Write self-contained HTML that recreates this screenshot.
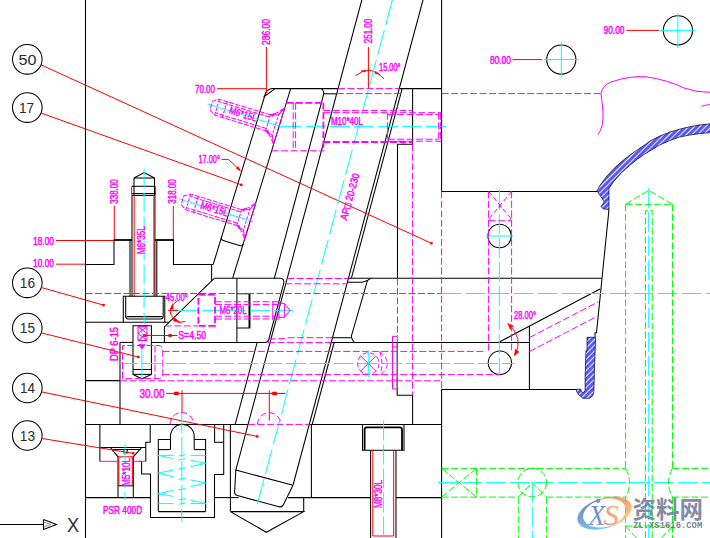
<!DOCTYPE html>
<html lang="zh">
<head>
<meta charset="utf-8">
<title>CAD</title>
<style>
html,body{margin:0;padding:0;background:#fff;}
body{width:710px;height:538px;overflow:hidden;position:relative;font-family:"Liberation Sans","Noto Sans CJK SC",sans-serif;}
svg{position:absolute;left:0;top:0;display:block;}
.k{stroke:#000;stroke-width:1.05;fill:none;}
.k2{stroke:#000;stroke-width:1.8;fill:none;}
.r{stroke:#f00;stroke-width:1;fill:none;}
.rf{stroke:#f00;stroke-width:.6;fill:#f00;}
.c{stroke:#0ff;stroke-width:1;fill:none;stroke-dasharray:20 4;}
.cs{stroke:#0ff;stroke-width:1;fill:none;}
.m{stroke:#f0f;stroke-width:1;fill:none;stroke-dasharray:7 2.5;}
.m2{stroke:#f0f;stroke-width:1.8;fill:none;stroke-dasharray:7 2.5;}
.ms{stroke:#f0f;stroke-width:1;fill:none;}
.mf{stroke:#f0f;stroke-width:.6;fill:#f0f;}
.g{stroke:#0f0;stroke-width:1;fill:none;stroke-dasharray:7 2.5;}
.hb{stroke:#000;stroke-width:.7;fill:url(#hb);}
.mt{fill:#f0f;stroke:#f0f;stroke-width:.45;font-family:"Liberation Sans",sans-serif;font-size:10.2px;}
.bt{fill:#2a2a2a;font-family:"Liberation Sans",sans-serif;font-size:15px;}
.bx{fill:#333;font-family:"Liberation Sans",sans-serif;font-size:19.6px;}
#wm{position:absolute;left:575px;top:492px;width:135px;height:46px;opacity:.85;}
#wm .cn{position:absolute;left:57.5px;top:3.5px;font-size:23.5px;line-height:28px;font-weight:bold;color:#6f7896;letter-spacing:0;white-space:nowrap;font-family:"Liberation Sans","Noto Sans CJK SC",sans-serif;}
#wm .url{position:absolute;left:58px;top:29px;font-size:8.8px;line-height:10px;font-weight:bold;color:#6c6c78;white-space:nowrap;font-family:"Liberation Mono",monospace;letter-spacing:0.05px;}
</style>
</head>
<body>
<svg width="710" height="538" viewBox="0 0 710 538">
<line x1="85.5" y1="0" x2="85.5" y2="538" class="k"/>
<path d="M85.5 264.5 L114 264.5 L114 240" class="k"/>
<line x1="113.5" y1="240" x2="132" y2="240" class="k2"/>
<line x1="155" y1="240" x2="174" y2="240" class="k2"/>
<path d="M173.5 240 L173.5 264.5 L213.18 264.5" class="k"/>
<line x1="211.6" y1="264.5" x2="211.6" y2="280.8" class="k"/>
<path d="M213.18 264.5 L265.31 94 Q266.68 89.5 271.8 88.6" class="k"/>
<line x1="274.8" y1="88.8" x2="263.6" y2="97" class="k"/>
<line x1="271.5" y1="88.6" x2="338.06" y2="88.6" class="k"/>
<line x1="290.66" y1="88.6" x2="232.69" y2="278.2" class="k"/>
<path d="M221.53 237.2 Q220.76 239.7 223.16 240.45 L240.26 245.65 Q242.66 246.4 243.18 243.9" class="k"/>
<path d="M214.2 278.3 L164.4 326.9 L164.4 342.4" class="k"/>
<path d="M214.2 278.3 L280.3 278.3 Q284.6 278.3 283.74 283.5 L268.6 340 Q267.95 342.4 265.35 342.4" class="k"/>
<line x1="120" y1="342.4" x2="133" y2="342.4" class="k"/>
<line x1="151.4" y1="342.4" x2="265.55" y2="342.4" class="k"/>
<line x1="236.9" y1="278.3" x2="236.9" y2="342.4" class="k"/>
<path d="M236.9 293.7 L249.7 293.7 L249.7 327.9 L236.9 327.9" class="k"/>
<line x1="249.4" y1="293.7" x2="249.4" y2="327.9" class="k2"/>
<line x1="85.5" y1="322.3" x2="169" y2="322.3" class="k"/>
<path d="M320.3 88.6 Q323.3 88.8 323.82 93.6 L274.33 278.3" class="k"/>
<line x1="323.77" y1="93.8" x2="336.47" y2="93.8" class="k"/>
<line x1="257.15" y1="342.4" x2="235.18" y2="424.4" class="k"/>
<line x1="361.8" y1="0" x2="235.7" y2="470.6" class="k"/>
<line x1="423" y1="0" x2="293.04" y2="485" class="k"/>
<line x1="402.16" y1="88.6" x2="351.33" y2="278.3" class="k"/>
<line x1="334.13" y1="342.5" x2="312.18" y2="424.4" class="k"/>
<line x1="399.26" y1="88.6" x2="441.6" y2="88.6" class="k"/>
<path d="M441.6 0 L441.6 191.4 L597.4 191.4" class="k"/>
<path d="M412.6 88.6 L412.6 144.2 L397.5 144.2 L397.5 278.3" class="k"/>
<line x1="348.43" y1="278.3" x2="601.6" y2="278.3" class="k"/>
<path d="M347.38 282.2 L362 282.2 L367.4 280.6 L370.6 278.3" class="k"/>
<path d="M367.4 280.6 L351.5 335.6 Q350.9 337.8 354.2 342.5" class="k"/>
<line x1="332.51" y1="337.7" x2="350.9" y2="337.7" class="k"/>
<path d="M330.63 342.5 L529.4 342.5" class="k"/>
<line x1="529.4" y1="326.2" x2="529.4" y2="389.4" class="k"/>
<line x1="498.2" y1="342.5" x2="600" y2="289" class="k"/>
<path d="M609 209.4 L596.5 332.7 L595 332.7 L595 337.3" class="k"/>
<path d="M576.7 389.4 L441.6 389.4 L441.6 538" class="k"/>
<path d="M397.2 342.5 L397.2 395.2 L412.6 395.2 L412.6 424.4" class="k"/>
<line x1="85.5" y1="424.4" x2="248.08" y2="424.4" class="k"/>
<line x1="309.28" y1="424.4" x2="441.6" y2="424.4" class="k"/>
<line x1="120" y1="342.4" x2="120" y2="424.4" class="k"/>
<line x1="85.5" y1="380.6" x2="120" y2="380.6" class="k"/>
<path d="M134 178 L144.1 172.6 L154.5 178" class="k"/>
<line x1="134" y1="178" x2="154.5" y2="178" class="k"/>
<line x1="134" y1="178" x2="134" y2="195.4" class="k"/>
<line x1="154.5" y1="178" x2="154.5" y2="195.4" class="k"/>
<line x1="131.7" y1="186.3" x2="131.7" y2="195.4" class="r"/>
<line x1="155.6" y1="186.3" x2="155.6" y2="195.4" class="r"/>
<line x1="132" y1="186.3" x2="155.2" y2="186.3" class="k"/>
<line x1="132" y1="193.6" x2="155.2" y2="193.6" class="k"/>
<line x1="132" y1="195.4" x2="155.2" y2="195.4" class="k"/>
<line x1="132" y1="195.4" x2="132" y2="296.2" class="k"/>
<line x1="154.9" y1="195.4" x2="154.9" y2="296.2" class="k"/>
<line x1="130" y1="240" x2="130" y2="296.2" class="k"/>
<line x1="156.8" y1="240" x2="156.8" y2="296.2" class="k"/>
<line x1="134.2" y1="195.4" x2="134.2" y2="296.2" class="r"/>
<line x1="153.9" y1="195.4" x2="153.9" y2="296.2" class="r"/>
<path d="M123.3 322.3 L123.3 296.2 L164.8 296.2 L164.8 322.3" class="k"/>
<path d="M125.7 296.2 L125.7 316.6 Q125.7 318.9 128 318.9 L160.9 318.9 Q163.2 318.9 163.2 316.6 L163.2 296.2" class="k"/>
<line x1="126.5" y1="316.6" x2="162.4" y2="316.6" class="k"/>
<path d="M133 342.4 L133 325.7 L151.4 325.7 L151.4 342.4" class="k"/>
<path d="M133 342.4 L133 374.4 L141.9 378.8 L151.4 374.4 L151.4 342.4" class="k"/>
<line x1="133" y1="369.5" x2="151.4" y2="369.5" class="k"/>
<line x1="133" y1="374.4" x2="151.4" y2="374.4" class="k"/>
<path d="M99.9 424.4 L99.9 461.2" class="k"/>
<path d="M150.2 424.4 L150.2 442.2 L145.8 442.2 L145.8 461.2" class="k"/>
<path d="M141.6 461.2 L141.6 474 L150.5 474 L150.5 517.5 L214.5 517.5 L214.5 474.4 L223.7 474.4 L223.7 424.4" class="k"/>
<line x1="99.9" y1="447.5" x2="145.8" y2="447.5" class="k"/>
<path d="M110.4 447.5 L118 456.8 L118 497.6" class="k"/>
<path d="M141.7 447.5 L133.3 456.8 L133.3 497.6" class="k"/>
<line x1="111.6" y1="449.5" x2="140.4" y2="449.5" class="k"/>
<path d="M124.1 449.5 L124.1 453 L127.2 453 L127.2 449.5" class="k"/>
<line x1="118" y1="485.8" x2="133.3" y2="485.8" class="k"/>
<line x1="118.9" y1="456.8" x2="118.9" y2="485.8" class="r"/>
<line x1="132.3" y1="456.8" x2="132.3" y2="485.8" class="r"/>
<line x1="118" y1="456.8" x2="133.3" y2="456.8" class="r"/>
<line x1="85.5" y1="497.6" x2="150.5" y2="497.6" class="k"/>
<path d="M214.6 424.4 L214.6 442.2 L223.7 442.2" class="k"/>
<path d="M158.3 511.6 L158.3 439.5 L170.5 439.5" class="k"/>
<path d="M205.6 511.6 L205.6 439.5 L194.2 439.5" class="k"/>
<line x1="158.3" y1="511.6" x2="205.6" y2="511.6" class="k"/>
<line x1="158.3" y1="449.6" x2="170.5" y2="449.6" class="k"/>
<line x1="194.2" y1="449.6" x2="205.6" y2="449.6" class="k"/>
<path d="M170.5 449.6 L170.5 436.2 A11.85 11.85 0 0 1 194.2 436.2 L194.2 449.6" class="k"/>
<line x1="214.5" y1="497.6" x2="238.6" y2="497.6" class="k"/>
<line x1="288" y1="497.6" x2="370.6" y2="497.6" class="k"/>
<line x1="396" y1="497.6" x2="441.6" y2="497.6" class="k"/>
<line x1="311.4" y1="424.4" x2="311.4" y2="497.6" class="k"/>
<line x1="303.7" y1="497.6" x2="303.7" y2="511.6" class="k"/>
<line x1="230.4" y1="424.4" x2="230.4" y2="511.6" class="k"/>
<path d="M230.4 511.6 L303.7 511.6 L266.3 532.3 L230.4 511.6" class="k"/>
<line x1="235.86" y1="470.05" x2="292.94" y2="485.35" class="k"/>
<path d="M235.86 470.05 L234.72 489.94 Q233.77 494.65 237.34 495.61 L278.88 506.74 Q282.45 507.69 284.4 502.73 L292.94 485.35" class="k"/>
<path d="M362.5 424.4 L362.5 450.3 L404 450.3 L404 424.4" class="k"/>
<path d="M364.6 450 L364.6 429.6 Q364.6 427.4 366.8 427.4 L399.8 427.4 Q402 427.4 402 429.6 L402 450" class="k2"/>
<line x1="370.6" y1="450.3" x2="370.6" y2="538" class="k"/>
<line x1="396" y1="450.3" x2="396" y2="538" class="k"/>
<line x1="372.8" y1="450.3" x2="372.8" y2="536" class="r"/>
<line x1="393.7" y1="450.3" x2="393.7" y2="536" class="r"/>
<line x1="372.8" y1="536" x2="393.7" y2="536" class="r"/>
<circle cx="561.3" cy="59.6" r="14.6" class="k"/>
<circle cx="677.9" cy="30.4" r="14.6" class="k"/>
<circle cx="499.6" cy="236" r="11.7" class="k"/>
<circle cx="499.9" cy="362.8" r="11.7" class="k"/>
<circle cx="27.3" cy="59.3" r="14.8" class="k"/>
<text transform="translate(27.4 59.3)" x="0" y="0" class="bt" text-anchor="middle" textLength="18" lengthAdjust="spacingAndGlyphs" dy="0.36em">50</text>
<circle cx="27.3" cy="107.6" r="14.8" class="k"/>
<text transform="translate(26.6 107.6)" x="0" y="0" class="bt" text-anchor="middle" textLength="15.2" lengthAdjust="spacingAndGlyphs" dy="0.36em">17</text>
<circle cx="27.3" cy="282.8" r="14.8" class="k"/>
<text transform="translate(27.4 282.8)" x="0" y="0" class="bt" text-anchor="middle" textLength="15.2" lengthAdjust="spacingAndGlyphs" dy="0.36em">16</text>
<circle cx="27.3" cy="328" r="14.8" class="k"/>
<text transform="translate(27.4 328)" x="0" y="0" class="bt" text-anchor="middle" textLength="15.2" lengthAdjust="spacingAndGlyphs" dy="0.36em">15</text>
<circle cx="27.3" cy="388" r="14.8" class="k"/>
<text transform="translate(27.4 388)" x="0" y="0" class="bt" text-anchor="middle" textLength="15" lengthAdjust="spacingAndGlyphs" dy="0.36em">14</text>
<circle cx="27.3" cy="435.5" r="14.8" class="k"/>
<text transform="translate(27.4 435.5)" x="0" y="0" class="bt" text-anchor="middle" textLength="15.2" lengthAdjust="spacingAndGlyphs" dy="0.36em">13</text>
<line x1="0" y1="524.5" x2="43.5" y2="524.5" class="k"/>
<path d="M43.5 519.6 L56.5 524.5 L43.5 529.6 L43.5 519.6" class="k"/>
<path d="M43.5 522 L51 524.5 L43.5 527" class="k" style="stroke:#777;stroke-width:.8"/>
<text transform="translate(73.2 524.8)" x="0" y="0" class="bx" text-anchor="middle" textLength="12.2" lengthAdjust="spacingAndGlyphs" dy="0.36em">X</text>
<defs><pattern id="hb" width="4" height="4" patternUnits="userSpaceOnUse" patternTransform="rotate(-45)"><rect width="4" height="4" fill="#5858ff"/><rect width="4" height="0.9" fill="#fff"/></pattern></defs>
<path d="M597.1 190.8 L599.5 186.1 L605.8 177.4 L613.7 168.7 L621.6 161.6 L629.5 155.3 L637.4 149.8 L645.3 144.5 L649.9 141.1 L659.7 136.1 L669.6 132.2 L679.4 129.2 L689.3 126.8 L699.2 125 L711 123.7 L711 132.5 L699.2 133.7 L689.3 135.1 L679.4 137.1 L669.6 140.6 L659.7 145 L649.9 150.9 L645.3 153.7 L637.4 159.2 L629.5 165.6 L621.6 172.7 L613.7 181.4 L609 188.5 L609 209.4 L603.4 209 L601.1 206.6 L604.2 201.9 L601.9 198 L599.5 194.8 Z" class="hb"/>
<path d="M587 337.3 L595.6 337.3 L594.6 366 L593.8 392.5 L592.5 396 L589.5 398.3 L583 398.3 L579 395 L576.5 391.5 L576.7 389.2 L581 389.2 L581.2 391.5 L583 392.6 L585.1 391 L585.1 378 L585.9 350.8 L587 350.8 Z" class="hb"/>
<line x1="41" y1="64.8" x2="431.5" y2="243.3" class="r"/>
<rect x="430.3" y="242.1" width="2.4" height="2.4" fill="#f00"/>
<line x1="41" y1="113" x2="241.3" y2="184.8" class="r"/>
<rect x="240.1" y="183.6" width="2.4" height="2.4" fill="#f00"/>
<line x1="41" y1="287.4" x2="103.6" y2="305.1" class="r"/>
<rect x="102.4" y="303.9" width="2.4" height="2.4" fill="#f00"/>
<line x1="41" y1="332.8" x2="138.3" y2="357" class="r"/>
<rect x="137.1" y="355.8" width="2.4" height="2.4" fill="#f00"/>
<line x1="41.2" y1="391.8" x2="257.2" y2="436.4" class="r"/>
<rect x="256" y="435.2" width="2.4" height="2.4" fill="#f00"/>
<line x1="41.5" y1="438.4" x2="133.2" y2="453.3" class="r"/>
<rect x="132" y="452.1" width="2.4" height="2.4" fill="#f00"/>
<line x1="266.4" y1="47" x2="266.4" y2="93" class="r"/>
<line x1="217" y1="88.7" x2="266.4" y2="88.7" class="r"/>
<line x1="368.4" y1="47" x2="368.4" y2="88" class="r"/>
<path d="M355.4 75.8 Q362 70.6 368.2 70.2 Q376.5 70.6 384 78.8" class="r"/>
<path d="M361 71 L365.4 69.9 L365 71.8 Z" class="rf"/>
<path d="M379.6 74.4 L375.6 71.4 L375 73.4 Z" class="rf"/>
<line x1="512.5" y1="59.6" x2="542" y2="59.6" class="r"/>
<line x1="626.5" y1="30.4" x2="659" y2="30.4" class="r"/>
<line x1="114.3" y1="206" x2="114.3" y2="239" class="r"/>
<line x1="173.3" y1="206" x2="173.3" y2="239" class="r"/>
<line x1="56" y1="240.5" x2="113" y2="240.5" class="r"/>
<line x1="56" y1="264.2" x2="85" y2="264.2" class="r"/>
<path d="M221.5 159.4 L228.5 159.4 L240.4 170.8" class="r"/>
<path d="M238.2 166.6 L240.4 170.8 L236.4 168.6 Z" class="rf"/>
<line x1="144.2" y1="335.5" x2="177.5" y2="335.5" class="r"/>
<rect x="142.8" y="334.1" width="3.6" height="2.8" fill="#f00"/>
<rect x="168.4" y="334.1" width="3.6" height="2.8" fill="#f00"/>
<path d="M177.6 300.8 Q162.3 311 178.6 322.4 L185.5 321.5" class="r"/>
<path d="M174 317.6 L180.4 322.6 L173.6 321 Z" class="rf"/>
<path d="M172.6 303.6 L170.6 309.6 L173.4 308.8 Z" class="rf"/>
<line x1="167.8" y1="310.4" x2="178.1" y2="310.4" class="r"/>
<line x1="166" y1="393.4" x2="285.5" y2="393.4" class="r"/>
<line x1="182" y1="390.4" x2="182" y2="413.5" class="r"/>
<line x1="269.3" y1="390.4" x2="269.3" y2="420.6" class="r"/>
<path d="M173.2 393.4 L175 392 L178.4 392 L178.4 394.9 L175 394.9 Z" class="rf"/>
<path d="M271.2 393.4 L273 392 L276.6 392 L276.6 394.9 L273 394.9 Z" class="rf"/>
<path d="M507.8 323.6 Q524.5 338 514.6 355.5" class="r"/>
<path d="M507.8 323.6 L513.4 326 L510.2 329.2 Z" class="rf"/>
<path d="M514.6 355.5 L515.2 349.4 L519 351.8 Z" class="rf"/>
<line x1="392.4" y1="0" x2="256.55" y2="507" class="c" style="stroke-dasharray:26 5 26 5"/>
<line x1="144.1" y1="168.5" x2="144.1" y2="324" class="c"/>
<line x1="141.9" y1="325.7" x2="141.9" y2="380.5" class="cs"/>
<line x1="561.3" y1="42" x2="561.3" y2="77" class="cs"/>
<line x1="543.5" y1="59.6" x2="579" y2="59.6" class="cs"/>
<line x1="677.9" y1="13" x2="677.9" y2="48" class="cs"/>
<line x1="660" y1="30.4" x2="695.5" y2="30.4" class="cs"/>
<line x1="499.3" y1="190" x2="499.3" y2="376.5" class="c"/>
<line x1="486" y1="236" x2="513" y2="236" class="cs"/>
<line x1="441.6" y1="293.5" x2="710" y2="293.5" class="c"/>
<line x1="117.8" y1="363.5" x2="515" y2="363.5" class="c"/>
<line x1="178.1" y1="310.4" x2="293" y2="310.4" class="c"/>
<line x1="282" y1="126.4" x2="446" y2="126.4" class="c"/>
<line x1="648.7" y1="188" x2="648.7" y2="538" class="c"/>
<line x1="125" y1="444" x2="125" y2="499.8" class="c"/>
<line x1="181.8" y1="413" x2="181.8" y2="522" class="c"/>
<line x1="383.6" y1="420.5" x2="383.6" y2="538" class="c"/>
<line x1="438" y1="482.6" x2="710" y2="482.6" class="c"/>
<line x1="532.3" y1="482.6" x2="532.3" y2="538" class="c"/>
<line x1="282.27" y1="126.88" x2="207.68" y2="104.07" class="cs"/>
<line x1="253.47" y1="221.68" x2="178.88" y2="198.87" class="cs"/>
<path d="M158.3 455.4 L173.5 455.4" class="cs"/>
<path d="M158.3 455.4 L173.5 458.6" class="cs"/>
<path d="M190.5 455.4 L205.6 455.4" class="cs"/>
<path d="M190.5 460.2 L205.6 463.3 L190.5 466.7" class="cs"/>
<path d="M173.5 469.8 L158.3 473.2 L173.5 476.8" class="cs"/>
<path d="M190.5 479.9 L205.6 483 L190.5 486.8" class="cs"/>
<path d="M173.5 490.2 L158.3 493.8 L173.5 496.4" class="cs"/>
<path d="M190.5 500 L205.6 503.6 L190.5 503.6" class="cs"/>
<path d="M158.3 503.6 L173.5 503.6" class="cs"/>
<line x1="178.7" y1="456" x2="185.7" y2="454.8" class="cs"/>
<line x1="178.7" y1="459.9" x2="185.7" y2="458.7" class="cs"/>
<line x1="178.7" y1="468.9" x2="185.7" y2="467.7" class="cs"/>
<line x1="178.7" y1="479.4" x2="185.7" y2="478.2" class="cs"/>
<line x1="178.7" y1="489.8" x2="185.7" y2="488.6" class="cs"/>
<line x1="178.7" y1="499.8" x2="185.7" y2="498.6" class="cs"/>
<line x1="178.7" y1="504.2" x2="185.7" y2="503" class="cs"/>
<line x1="338.06" y1="88.6" x2="399.26" y2="88.6" class="m"/>
<line x1="336.72" y1="93.6" x2="401" y2="93.6" class="m"/>
<line x1="441.6" y1="93.6" x2="601" y2="93.6" class="m"/>
<path d="M598 134.5 Q603.5 128 603 112 Q602 100 601 93.5 Q602.5 85.5 611 82 Q630 75.5 646 76.8 Q668 80 684 88 Q697 92.5 710 92.3" class="ms"/>
<path d="M701.5 106.3 Q706 105 710 104.6" class="ms"/>
<line x1="286.32" y1="102.8" x2="323.4" y2="102.8" class="m2"/>
<line x1="271.64" y1="150.8" x2="323.4" y2="150.8" class="m"/>
<line x1="293.2" y1="102.8" x2="293.2" y2="150.8" class="m"/>
<line x1="295.6" y1="102.8" x2="295.6" y2="150.8" class="m"/>
<line x1="323.4" y1="102.8" x2="323.4" y2="150.8" class="m2"/>
<line x1="323.4" y1="110.6" x2="412.5" y2="110.6" class="m"/>
<line x1="323.4" y1="112.7" x2="441.3" y2="112.7" class="m"/>
<line x1="387.6" y1="114.6" x2="438.7" y2="114.6" class="m"/>
<line x1="387.6" y1="139.2" x2="438.7" y2="139.2" class="m"/>
<line x1="387.6" y1="141.2" x2="441.3" y2="141.2" class="m"/>
<line x1="323.4" y1="142" x2="412.5" y2="142" class="m2"/>
<line x1="387.6" y1="112.7" x2="387.6" y2="141.2" class="m"/>
<line x1="438.7" y1="112.7" x2="438.7" y2="141.2" class="m"/>
<line x1="440.4" y1="112.7" x2="440.4" y2="141.2" class="m"/>
<line x1="412.6" y1="144.2" x2="412.6" y2="395.2" class="m"/>
<line x1="441.6" y1="191.4" x2="441.6" y2="389.4" class="m"/>
<line x1="397.5" y1="278.3" x2="397.5" y2="336" class="m"/>
<line x1="488.6" y1="191.4" x2="488.6" y2="352" class="m"/>
<line x1="511.6" y1="191.4" x2="511.6" y2="352" class="m"/>
<path d="M488.6 220.8 L511.6 220.8" class="m"/>
<line x1="488.6" y1="191.4" x2="511.6" y2="219.4" class="m" style="stroke-dasharray:5 2.5"/>
<line x1="511.6" y1="191.4" x2="488.6" y2="219.4" class="m" style="stroke-dasharray:5 2.5"/>
<path d="M488.6 217.6 L491.4 220.8 M511.6 217.6 L508.8 220.8" class="ms"/>
<line x1="85.5" y1="293.5" x2="441.6" y2="293.5" class="m"/>
<line x1="287.18" y1="278.5" x2="348.38" y2="278.5" class="m"/>
<line x1="285.16" y1="283.8" x2="346.96" y2="283.8" class="m"/>
<line x1="164.8" y1="325.9" x2="198.4" y2="325.9" class="m"/>
<path d="M268.87 339 L285.5 338.6 L288 337.7 L332.51 337.7" class="m"/>
<line x1="267.9" y1="342.6" x2="331.2" y2="342.6" class="m"/>
<line x1="162.8" y1="351.4" x2="486" y2="351.4" class="m"/>
<line x1="162.8" y1="374.6" x2="500" y2="374.6" class="m"/>
<line x1="120" y1="380.8" x2="441.6" y2="380.8" class="m"/>
<line x1="529.4" y1="337.6" x2="598.5" y2="301.8" class="m"/>
<line x1="529.4" y1="351.6" x2="597.2" y2="316.3" class="m"/>
<path d="M198.4 294.6 L215 294.6 L215 325.8 L198.4 325.8 L198.4 294.6" class="m2"/>
<line x1="215" y1="301.8" x2="279" y2="301.8" class="m"/>
<line x1="215" y1="304.6" x2="279" y2="304.6" class="m"/>
<line x1="215" y1="316.2" x2="279" y2="316.2" class="m"/>
<line x1="215" y1="319" x2="279" y2="319" class="m"/>
<path d="M272.8 301.6 L272.8 319.2 M279 301.6 L279 319.2 M279 303.4 L284.4 303.4 L289.9 310.4 L284.4 317.4 L279 317.4 M284.4 303.4 L284.4 317.4" class="ms"/>
<path d="M122.5 378.6 L122.5 345.5 L158 345.5 Q162.8 345.5 162.8 350 L162.8 374 Q162.8 378.6 158 378.6 Z" class="m"/>
<line x1="155" y1="345.5" x2="155" y2="378.6" class="m"/>
<path d="M138 326.5 L147 326.5 L147 340.5 L138 340.5 Z M138 326.5 L147 333.5 L138 340.5 M147 326.5 L138 333.5 L147 340.5" class="ms"/>
<path d="M138.6 344.4 L145.4 344.4 L142 349 Z" class="mf"/>
<path d="M379.1 363.5 L378.45 367.19 L376.57 370.44 L373.7 372.85 L370.18 374.14 L366.42 374.14 L362.9 372.85 L360.03 370.44 L358.15 367.19 L357.5 363.5 L358.15 359.81 L360.03 356.56 L362.9 354.15 L366.42 352.86 L370.18 352.86 L373.7 354.15 L376.57 356.56 L378.45 359.81 L379.1 363.5" class="m" style="stroke-dasharray:5 2.5"/>
<path d="M360.8 356 L375.8 371 M375.8 356 L360.8 371" class="ms"/>
<path d="M379.8 351.6 Q395 363.5 379.8 375.4 M379.8 351.6 Q384 363.5 379.8 375.4" class="m" style="stroke-dasharray:5 2.5"/>
<line x1="368.3" y1="350.5" x2="368.3" y2="377" class="cs"/>
<path d="M392.5 336.3 L397.4 336.3 L397.4 389 L392.5 389 L392.5 336.3" class="ms"/>
<line x1="392.5" y1="347" x2="397.4" y2="347" class="ms"/>
<line x1="392.5" y1="380" x2="397.4" y2="380" class="ms"/>
<line x1="248.08" y1="424.4" x2="309.28" y2="424.4" class="m"/>
<path d="M170 424.4 A11.85 11.85 0 0 1 193.7 424.4" class="m" style="stroke-dasharray:6 3"/>
<path d="M257.5 424.4 A11.7 11.7 0 0 1 280.9 424.4" class="m" style="stroke-dasharray:6 3"/>
<line x1="99.9" y1="461.3" x2="118" y2="461.3" class="ms"/>
<line x1="133.3" y1="461.3" x2="145.8" y2="461.3" class="ms"/>
<line x1="138.5" y1="461.3" x2="141.6" y2="461.3" class="ms"/>
<g transform="translate(279.2 126.2) rotate(17)">
<path d="M0 -19.3 L0 19.3" class="m" style="stroke-dasharray:6 1.5"/>
<path d="M0 -19.3 Q-7 -9.6 -11.7 -8.3 M0 19.3 Q-7 9.6 -11.7 8.3" class="m" style="stroke-dasharray:6 1.5"/>
<path d="M-11.7 -8.3 L-65 -8.3 L-71 -4.5 L-71 4.5 L-65 8.3 L-11.7 8.3" class="m" style="stroke-dasharray:5 1.3"/>
<path d="M-11.7 -5.9 L-65 -5.9 M-11.7 5.9 L-65 5.9" class="m" style="stroke-dasharray:5 1.3"/>
<path d="M-11.7 -8.3 L-11.7 8.3 M-57 -8.3 L-57 8.3 M-65 -8.3 L-65 8.3 M-4 -12.5 L-4 12.5" class="m" style="stroke-dasharray:3 1.5"/>
<path d="M0 -19.3 L-4 -10.5 L-10 -9 M0 19.3 L-4 10.5 L-10 9" class="ms"/>
<path d="M-12 -8.3 L-8.5 -10.6 L-9 -7.4 Z M-12 8.3 L-8.5 10.6 L-9 7.4 Z" class="mf"/>
<text x="-38" y="-1.2" class="mt" text-anchor="middle" textLength="28.5" lengthAdjust="spacingAndGlyphs" dy="0.36em" style="font-size:10.4px">M6*15L</text>
</g>
<g transform="translate(250.4 221) rotate(17)">
<path d="M0 -19.3 L0 19.3" class="m" style="stroke-dasharray:6 1.5"/>
<path d="M0 -19.3 Q-7 -9.6 -11.7 -8.3 M0 19.3 Q-7 9.6 -11.7 8.3" class="m" style="stroke-dasharray:6 1.5"/>
<path d="M-11.7 -8.3 L-65 -8.3 L-71 -4.5 L-71 4.5 L-65 8.3 L-11.7 8.3" class="m" style="stroke-dasharray:5 1.3"/>
<path d="M-11.7 -5.9 L-65 -5.9 M-11.7 5.9 L-65 5.9" class="m" style="stroke-dasharray:5 1.3"/>
<path d="M-11.7 -8.3 L-11.7 8.3 M-57 -8.3 L-57 8.3 M-65 -8.3 L-65 8.3 M-4 -12.5 L-4 12.5" class="m" style="stroke-dasharray:3 1.5"/>
<path d="M0 -19.3 L-4 -10.5 L-10 -9 M0 19.3 L-4 10.5 L-10 9" class="ms"/>
<path d="M-12 -8.3 L-8.5 -10.6 L-9 -7.4 Z M-12 8.3 L-8.5 10.6 L-9 7.4 Z" class="mf"/>
<text x="-38" y="-1.2" class="mt" text-anchor="middle" textLength="28.5" lengthAdjust="spacingAndGlyphs" dy="0.36em" style="font-size:10.4px">M6*15L</text>
</g>
<text transform="translate(266.3 32) rotate(-90)" x="0" y="0" class="mt" text-anchor="middle" textLength="26" lengthAdjust="spacingAndGlyphs" dy="0.36em">286.00</text>
<text transform="translate(205 89.3)" x="0" y="0" class="mt" text-anchor="middle" textLength="20" lengthAdjust="spacingAndGlyphs" dy="0.36em">70.00</text>
<text transform="translate(368.6 31) rotate(-90)" x="0" y="0" class="mt" text-anchor="middle" textLength="24.5" lengthAdjust="spacingAndGlyphs" dy="0.36em">251.00</text>
<text transform="translate(389.8 67.3)" x="0" y="0" class="mt" text-anchor="middle" textLength="21.5" lengthAdjust="spacingAndGlyphs" dy="0.36em">15.00°</text>
<text transform="translate(500.4 60.1)" x="0" y="0" class="mt" text-anchor="middle" textLength="21" lengthAdjust="spacingAndGlyphs" dy="0.36em">80.00</text>
<text transform="translate(614 30.5)" x="0" y="0" class="mt" text-anchor="middle" textLength="21" lengthAdjust="spacingAndGlyphs" dy="0.36em">90.00</text>
<text transform="translate(209.2 159.8)" x="0" y="0" class="mt" text-anchor="middle" textLength="21.5" lengthAdjust="spacingAndGlyphs" dy="0.36em">17.00°</text>
<text transform="translate(114.2 191.5) rotate(-90)" x="0" y="0" class="mt" text-anchor="middle" textLength="24.5" lengthAdjust="spacingAndGlyphs" dy="0.36em">338.00</text>
<text transform="translate(172.8 191.5) rotate(-90)" x="0" y="0" class="mt" text-anchor="middle" textLength="24.5" lengthAdjust="spacingAndGlyphs" dy="0.36em">318.00</text>
<text transform="translate(43.5 240.9)" x="0" y="0" class="mt" text-anchor="middle" textLength="21" lengthAdjust="spacingAndGlyphs" dy="0.36em">18.00</text>
<text transform="translate(43.5 263.4)" x="0" y="0" class="mt" text-anchor="middle" textLength="21" lengthAdjust="spacingAndGlyphs" dy="0.36em">10.00</text>
<text transform="translate(141.4 240.3) rotate(-90)" x="0" y="0" class="mt" text-anchor="middle" textLength="28" lengthAdjust="spacingAndGlyphs" dy="0.36em">M6*35L</text>
<text transform="translate(176.8 297.8)" x="0" y="0" class="mt" text-anchor="middle" textLength="22" lengthAdjust="spacingAndGlyphs" dy="0.36em">45.00°</text>
<text transform="translate(192.2 335.5)" x="0" y="0" class="mt" text-anchor="middle" textLength="28" lengthAdjust="spacingAndGlyphs" dy="0.36em">S=4.50</text>
<text transform="translate(114 344) rotate(-90)" x="0" y="0" class="mt" text-anchor="middle" textLength="34" lengthAdjust="spacingAndGlyphs" dy="0.36em">DP 6-15</text>
<text transform="translate(152 393.6)" x="0" y="0" class="mt" text-anchor="middle" textLength="25" lengthAdjust="spacingAndGlyphs" style="font-size:12px" dy="0.36em">30.00</text>
<text transform="translate(233 310.6)" x="0" y="0" class="mt" text-anchor="middle" textLength="27" lengthAdjust="spacingAndGlyphs" dy="0.36em">M6*20L</text>
<text transform="translate(346.9 121.1)" x="0" y="0" class="mt" text-anchor="middle" textLength="32" lengthAdjust="spacingAndGlyphs" dy="0.36em">M10*40L</text>
<text transform="translate(349.6 196.6) rotate(-74.7)" x="0" y="0" class="mt" text-anchor="middle" textLength="48" lengthAdjust="spacingAndGlyphs" dy="0.36em">AP&#9633; 20-230</text>
<text transform="translate(525 315.2)" x="0" y="0" class="mt" text-anchor="middle" textLength="22" lengthAdjust="spacingAndGlyphs" dy="0.36em">28.00°</text>
<text transform="translate(126 472) rotate(-90)" x="0" y="0" class="mt" text-anchor="middle" textLength="28" lengthAdjust="spacingAndGlyphs" dy="0.36em">M5*10L</text>
<text transform="translate(122.6 510)" x="0" y="0" class="mt" text-anchor="middle" textLength="39" lengthAdjust="spacingAndGlyphs" dy="0.36em">PSR 400D</text>
<text transform="translate(378.4 494) rotate(-90)" x="0" y="0" class="mt" text-anchor="middle" textLength="28" lengthAdjust="spacingAndGlyphs" dy="0.36em">M8*30L</text>
<text x="499.9" y="207.6" class="mt" text-anchor="middle" style="font-size:6px;stroke-width:.2">x</text>
<path d="M625.6 204.3 L648.7 190.4 L672.5 204.3" class="g"/>
<line x1="625.6" y1="204.3" x2="672.5" y2="204.3" class="g"/>
<line x1="625.6" y1="204.3" x2="625.6" y2="468.4" class="g"/>
<line x1="672.5" y1="204.3" x2="672.5" y2="468.4" class="g"/>
<path d="M645.4 538 L645.4 210.4 L652.2 210.4 L652.2 538" class="g"/>
<line x1="441.6" y1="468.4" x2="625.6" y2="468.4" class="g"/>
<line x1="672.5" y1="468.4" x2="710" y2="468.4" class="g"/>
<line x1="441.6" y1="497.1" x2="518.3" y2="497.1" class="g"/>
<line x1="546.4" y1="497.1" x2="625.6" y2="497.1" class="g"/>
<line x1="672.5" y1="497.1" x2="710" y2="497.1" class="g"/>
<path d="M625.6 468.4 Q633.5 482.7 625.6 497.1" class="g"/>
<path d="M672.5 468.4 Q664.5 482.7 672.5 497.1" class="g"/>
<line x1="625.6" y1="497.1" x2="625.6" y2="538" class="g"/>
<line x1="672.5" y1="497.1" x2="672.5" y2="538" class="g"/>
<line x1="441.6" y1="468.4" x2="476.6" y2="497.1" class="g"/>
<line x1="441.6" y1="497.1" x2="476.6" y2="468.4" class="g"/>
<line x1="476.6" y1="468.4" x2="476.6" y2="497.1" class="g"/>
<circle cx="532.3" cy="482.6" r="14.3" class="g"/>
<path d="M518.3 497.1 L532.3 482.6 L546.4 497.1" class="g"/>
<line x1="518.3" y1="497.1" x2="518.3" y2="538" class="g"/>
<line x1="546.4" y1="497.1" x2="546.4" y2="538" class="g"/>
<line x1="625.6" y1="526" x2="672.5" y2="526" class="g"/>
<line x1="625.6" y1="526" x2="636.5" y2="538" class="g"/>
<line x1="672.5" y1="526" x2="661.5" y2="538" class="g"/>
</svg>
<div id="wm">
<svg width="60" height="46" viewBox="0 0 60 46" style="left:0;top:0">
<defs>
<linearGradient id="lgb" x1="0" y1="0" x2="0.4" y2="1"><stop offset="0" stop-color="#5b6aa8"/><stop offset=".55" stop-color="#5f8fd0"/><stop offset="1" stop-color="#62bdf0"/></linearGradient>
<linearGradient id="lgo" x1="0" y1="0" x2="0" y2="1"><stop offset="0" stop-color="#f08a62"/><stop offset=".4" stop-color="#f5ae62"/><stop offset="1" stop-color="#f8cc80"/></linearGradient>
<linearGradient id="lgx" x1="0" y1="0" x2="0" y2="1"><stop offset="0" stop-color="#4f6fae"/><stop offset="1" stop-color="#5b93d2"/></linearGradient>
<linearGradient id="lgs" x1="1" y1="0" x2="0" y2="1"><stop offset="0" stop-color="#f3b064"/><stop offset="1" stop-color="#ee7e68"/></linearGradient>
<clipPath id="cl"><path d="M0 0 L21 0 L41 46 L0 46 Z"/></clipPath>
<clipPath id="cr"><path d="M21 0 L60 0 L60 46 L41 46 Z"/></clipPath>
</defs>
<g clip-path="url(#cl)">
<path fill-rule="evenodd" fill="url(#lgb)" d="M2.7 29.3 A28 15 -17 1 0 56.3 12.9 A28 15 -17 1 0 2.7 29.3 Z M8.44 26.74 A21.8 13.8 -15 1 1 50.56 15.46 A21.8 13.8 -15 1 1 8.44 26.74 Z"/>
</g>
<g clip-path="url(#cr)">
<path fill-rule="evenodd" fill="url(#lgo)" d="M2.7 29.3 A28 15 -17 1 0 56.3 12.9 A28 15 -17 1 0 2.7 29.3 Z M8.44 26.74 A21.8 13.8 -15 1 1 50.56 15.46 A21.8 13.8 -15 1 1 8.44 26.74 Z"/>
</g>
<circle cx="23.1" cy="8.7" r="2.2" fill="#5a86c6"/>
<text x="13.2" y="33" font-family="Liberation Serif,serif" font-style="italic" font-size="30" fill="url(#lgx)" textLength="17" lengthAdjust="spacingAndGlyphs">X</text>
<text x="28.6" y="32.6" font-family="Liberation Serif,serif" font-style="italic" font-size="30" fill="url(#lgs)" textLength="15.5" lengthAdjust="spacingAndGlyphs">S</text>
</svg>
<div class="cn">资料网</div>
<div class="url">ZL.XS1616.COM</div>
</div>
</body>
</html>
